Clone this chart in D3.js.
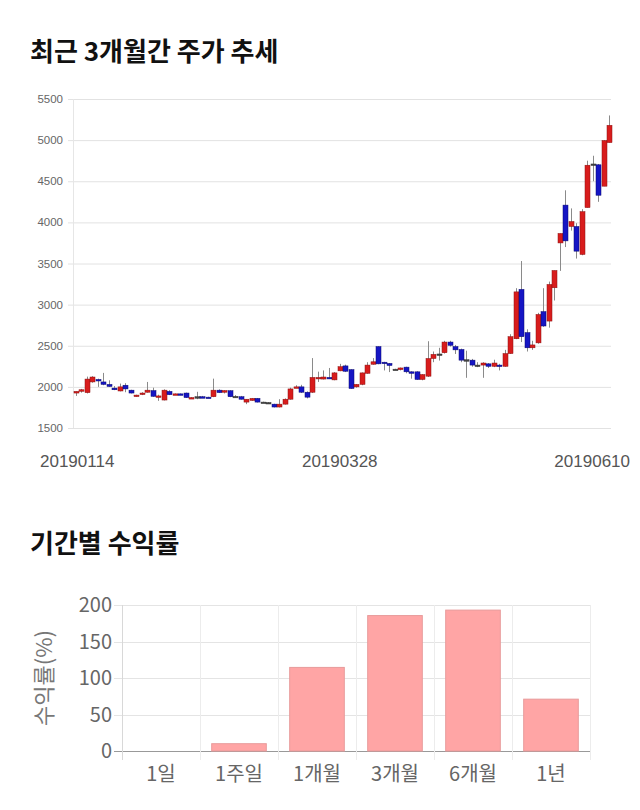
<!DOCTYPE html>
<html><head><meta charset="utf-8">
<script src="https://cdn.jsdelivr.net/npm/d3@7"></script>
<style>
body{margin:0;background:#fff;}
svg{display:block;font-family:"Noto Sans CJK KR","Noto Sans",sans-serif;}
</style></head>
<body><svg id="c" width="640" height="810"></svg>
<script>
// ---- candlestick data ----
const opens  = [1925,1950,1930,2060,2090,2060,2030,1985,1950,2020,1960,1885,1910,1935,1955,1885,1840,1945,1910,1915,1925,1860,1880,1880,1875,1880,1960,1935,1953,1885,1880,1815,1835,1860,1815,1810,1790,1755,1790,1850,1995,2000,1935,1935,2100,2095,2115,2085,2195,2255,2210,2000,2030,2165,2275,2490,2300,2285,2215,2210,2240,2183,2183,2090,2130,2345,2400,2415,2545,2490,2455,2330,2325,2265,2265,2280,2250,2265,2250,2405,2585,3185,2660,2475,2535,2915,2800,3205,3750,4210,3950,3950,3610,4180,4710,4700,4440,4970];
const highs  = [1945,1975,2125,2130,2100,2170,2080,2010,2040,2045,1965,1905,1935,2060,1990,1905,1970,1960,1920,1920,1930,1875,1940,1890,1880,2100,1970,1960,1960,1900,1890,1850,1865,1865,1820,1815,1795,1850,1860,1990,2020,2025,1945,2350,2185,2200,2230,2180,2280,2270,2215,2035,2175,2300,2350,2495,2305,2290,2220,2235,2245,2190,2190,2155,2555,2430,2475,2560,2560,2510,2465,2440,2340,2300,2300,2290,2330,2280,2450,2640,3200,3530,2700,2560,2900,3200,3280,3415,3865,4390,4170,3990,4160,4750,4810,4710,5000,5300];
const lows   = [1890,1930,1920,2050,2000,2020,2000,1960,1945,1935,1920,1880,1900,1930,1880,1830,1835,1900,1905,1900,1865,1855,1850,1865,1865,1875,1925,1920,1875,1870,1845,1790,1830,1810,1805,1800,1750,1750,1785,1845,1985,1925,1860,1925,2060,2090,2095,2080,2190,2180,1975,1990,2020,2160,2270,2275,2200,2180,2205,2200,2165,2100,2085,2080,2120,2300,2320,2405,2490,2400,2300,2110,2245,2240,2110,2230,2240,2200,2245,2400,2580,2545,2430,2450,2525,2730,2720,3050,3410,3700,3900,3560,3600,4180,4500,4250,4440,4970];
const closes = [1945,1965,2095,2120,2075,2030,2005,1965,2000,1975,1925,1900,1925,1960,1885,1890,1960,1905,1915,1905,1870,1870,1880,1870,1865,1960,1930,1955,1880,1885,1850,1850,1860,1815,1815,1810,1755,1790,1850,1975,2000,1935,1875,2115,2115,2120,2100,2170,2245,2190,1980,2030,2170,2265,2305,2280,2285,2260,2215,2230,2183,2180,2090,2150,2345,2395,2400,2545,2505,2450,2325,2330,2265,2265,2290,2250,2290,2250,2405,2610,3155,2610,2475,2510,2880,2740,3245,3415,3865,3775,4010,3650,4130,4695,4710,4330,4995,5180];
const priceTicks = [1500,2000,2500,3000,3500,4000,4500,5000,5500];
const dateLabels = ["20190114","20190328","20190610"];
const dateLabelIdx = [0,48,97];

// ---- period return data ----
const periods = ["1일","1주일","1개월","3개월","6개월","1년"];
const returns = [0,10,114.5,185.5,193,71];
const returnTicks = [0,50,100,150,200];

const svg = d3.select("#c");

// titles
svg.append("text").attr("x",30).attr("y",61).attr("font-size",26).attr("font-weight",700).attr("fill","#111").text("최근 3개월간 주가 추세");
svg.append("text").attr("x",30).attr("y",553).attr("font-size",26).attr("font-weight",700).attr("fill","#111").text("기간별 수익률");

// ---- candlestick ----
const n = opens.length;
const x = d3.scaleLinear().domain([0,n-1]).range([76,609]);
const y = d3.scaleLinear().domain([1500,5500]).range([428,99]);
const g1 = svg.append("g");
g1.selectAll("line.grid").data(priceTicks).join("line")
  .attr("x1",68).attr("x2",611).attr("y1",d=>y(d)+0.5).attr("y2",d=>y(d)+0.5)
  .attr("stroke","#e2e2e2").attr("stroke-width",1);
g1.append("line").attr("x1",73.5).attr("x2",73.5).attr("y1",y(5500)).attr("y2",y(1500)).attr("stroke","#e6e6e6");
g1.selectAll("text.pt").data(priceTicks).join("text")
  .attr("x",63).attr("y",d=>y(d)+4).attr("text-anchor","end").attr("font-size",11.5)
  .attr("font-family","Liberation Sans, Arial, sans-serif").attr("fill","#666").text(d=>d);
const idx = d3.range(n);
g1.selectAll("line.wick").data(idx).join("line")
  .attr("x1",i=>Math.round(x(i))+0.5).attr("x2",i=>Math.round(x(i))+0.5)
  .attr("y1",i=>y(highs[i])).attr("y2",i=>y(lows[i]))
  .attr("stroke","#8a8a8a").attr("stroke-width",1);
g1.selectAll("rect.body").data(idx).join("rect")
  .attr("x",i=>Math.round(x(i))-2).attr("width",5)
  .attr("y",i=>y(Math.max(opens[i],closes[i])))
  .attr("height",i=>Math.max(1.5,Math.abs(y(opens[i])-y(closes[i]))))
  .attr("fill",i=>closes[i]>opens[i]?"#d81c1c":(closes[i]<opens[i]?"#1515c4":"#444"))
  .attr("stroke",i=>closes[i]>opens[i]?"#8a1010":(closes[i]<opens[i]?"#0a0a70":"#333"))
  .attr("stroke-width",0.5);
dateLabels.forEach((lab,k)=>{
  const i = dateLabelIdx[k];
  let px = x(i), anchor="middle";
  if(k===0){px=40;anchor="start";}
  if(k===dateLabels.length-1){px=630;anchor="end";}
  g1.append("text").attr("x",px).attr("y",467).attr("text-anchor",anchor)
    .attr("font-size",17).attr("font-family","Liberation Sans, Arial, sans-serif").attr("fill","#555").text(lab);
});

// ---- bar chart ----
const xb = d3.scaleBand().domain(periods).range([122,590]).paddingInner(0.3).paddingOuter(0.15);
const yb = d3.scaleLinear().domain([0,200]).range([751,605]);
const g2 = svg.append("g");
g2.selectAll("line.hg").data(returnTicks).join("line")
  .attr("x1",114).attr("x2",590).attr("y1",d=>Math.round(yb(d))+0.5).attr("y2",d=>Math.round(yb(d))+0.5)
  .attr("stroke",d=>d===0?"#999":"#e4e4e4");
const bounds = d3.range(periods.length+1).map(k=>122+k*(468/6));
g2.selectAll("line.vg").data(bounds).join("line")
  .attr("x1",d=>Math.round(d)+0.5).attr("x2",d=>Math.round(d)+0.5).attr("y1",605).attr("y2",760)
  .attr("stroke",(d,k)=>k===0?"#d8d8d8":"#ececec");
g2.selectAll("text.rt").data(returnTicks).join("text")
  .attr("x",112).attr("y",d=>yb(d)+7).attr("text-anchor","end").attr("font-size",20)
  .attr("fill","#666").text(d=>d);
g2.selectAll("text.pl").data(periods).join("text")
  .attr("x",d=>xb(d)+xb.bandwidth()/2).attr("y",781).attr("text-anchor","middle").attr("font-size",20)
  .attr("fill","#666").text(d=>d);
g2.selectAll("rect.bar").data(periods).join("rect")
  .attr("x",d=>xb(d)).attr("width",xb.bandwidth())
  .attr("y",(d,i)=>yb(Math.max(0,returns[i]))).attr("height",(d,i)=>Math.abs(yb(returns[i])-yb(0)))
  .attr("fill","#ffa5a5").attr("stroke","#e89a9a").attr("stroke-width",1);
svg.append("text").attr("transform","translate(52,678) rotate(-90)").attr("text-anchor","middle")
  .attr("font-size",22).attr("fill","#777").text("수익률(%)");
</script></body></html>
